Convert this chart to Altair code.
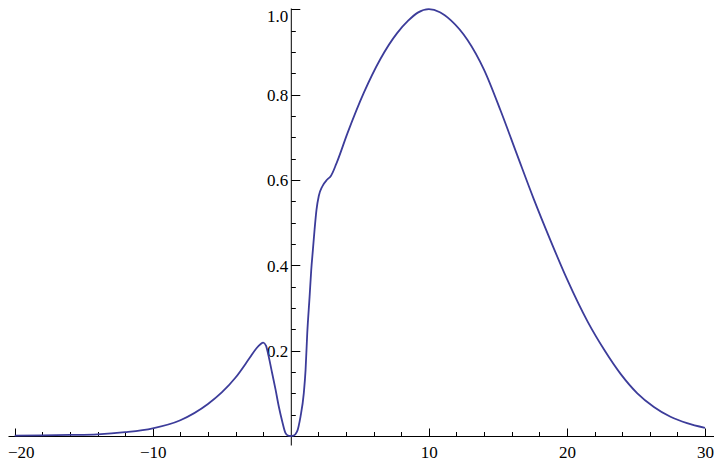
import altair as alt
import pandas as pd

# curve samples
x_vals = [-20, -18, -16, -14, -12, -10, -8, -6, -5, -4,
          -3, -2.5, -2.2, -2.0, -1.8, -1.6, -1.35, -1.1, -0.87, -0.62,
          -0.4, -0.2, 0, 0.2, 0.45, 0.7, 0.94, 1.07, 1.19, 1.36,
          1.48, 1.6, 1.72, 1.86, 2.03, 2.27, 2.64, 2.9, 3.3, 4.1,
          5.3, 6.5, 7.7, 8.5, 9.2, 10, 10.8, 11.6, 12.8, 14,
          15.2, 16.4, 17.6, 18.8, 20, 21.5, 22.7, 23.9, 25.1, 26.3,
          27.5, 28.7, 30]
y_vals = [0.001, 0.0015, 0.0025, 0.004, 0.009, 0.018, 0.037, 0.075, 0.102, 0.137,
          0.182, 0.205, 0.215, 0.219, 0.212, 0.186, 0.147, 0.108, 0.069, 0.034,
          0.008, 0.001, 0.0, 0.001, 0.01, 0.045, 0.1, 0.155, 0.24, 0.326,
          0.389, 0.436, 0.483, 0.53, 0.563, 0.584, 0.601, 0.609, 0.638, 0.709,
          0.805, 0.884, 0.944, 0.973, 0.992, 1.0, 0.993, 0.974, 0.928, 0.858,
          0.762, 0.658, 0.555, 0.459, 0.368, 0.268, 0.202, 0.145, 0.100, 0.068,
          0.045, 0.030, 0.019]

x_major = [-20, -10, 10, 20, 30]
x_minor = [-18, -16, -14, -12, -8, -6, -4, -2, 2, 4, 6, 8,
           12, 14, 16, 18, 22, 24, 26, 28]
y_major = [0.2, 0.4, 0.6, 0.8, 1.0]
y_minor = [0.05, 0.1, 0.15, 0.25, 0.3, 0.35, 0.45, 0.5, 0.55,
           0.65, 0.7, 0.75, 0.85, 0.9, 0.95]

df = pd.DataFrame({"x": x_vals, "y": y_vals})

W, H = 706, 437
x_dom = [-20.484, 30.653]
y_dom = [-0.02109, 1.00281]
X0 = 282.8      # plot-x of the vertical axis
Y0 = 428.0      # plot-y of the horizontal axis

FONT = "Liberation Serif"
xs = alt.Scale(domain=x_dom, nice=False, zero=False)
ys = alt.Scale(domain=y_dom, nice=False, zero=False)

# layer 1: the curve, with major ticks pointing inward
curve = alt.Chart(df).mark_line(
    color="#3c3c9a", strokeWidth=1.8, interpolate="monotone"
).encode(
    x=alt.X("x:Q", scale=xs, title=None,
            axis=alt.Axis(orient="top", values=x_major, tickSize=8, labels=False,
                          domain=False, grid=False, offset=-Y0,
                          tickColor="black", tickWidth=1)),
    y=alt.Y("y:Q", scale=ys, title=None,
            axis=alt.Axis(orient="right", values=y_major, tickSize=9, labels=False,
                          domain=False, grid=False, offset=X0 - W,
                          tickColor="black", tickWidth=1)),
)

# layer 2: minor ticks
minor = alt.Chart(df).mark_line(strokeOpacity=0).encode(
    x=alt.X("x:Q", scale=xs, title=None,
            axis=alt.Axis(orient="top", values=x_minor, tickSize=4.5, labels=False,
                          domain=False, grid=False, offset=-Y0,
                          tickColor="black", tickWidth=1)),
    y=alt.Y("y:Q", scale=ys, title=None,
            axis=alt.Axis(orient="right", values=y_minor, tickSize=4.5, labels=False,
                          domain=False, grid=False, offset=X0 - W,
                          tickColor="black", tickWidth=1)),
)

# layer 3: axis lines and labels
labels = alt.Chart(df).mark_line(strokeOpacity=0).encode(
    x=alt.X("x:Q", scale=xs, title=None,
            axis=alt.Axis(orient="bottom", values=x_major, ticks=False, tickSize=0,
                          labels=True, labelPadding=8, format="d",
                          labelFont=FONT, labelFontSize=17, labelColor="black",
                          labelOffset={"condition": {"test": "datum.value == -20", "value": 6},
                                       "value": 0},
                          domain=True, domainColor="black", domainWidth=1,
                          grid=False, offset=Y0 - H)),
    y=alt.Y("y:Q", scale=ys, title=None,
            axis=alt.Axis(orient="left", values=y_major, ticks=False, tickSize=0,
                          labels=True, labelPadding=3, format=".1f",
                          labelFont=FONT, labelFontSize=17, labelColor="black",
                          labelBaseline="middle",
                          labelOffset={"condition": {"test": "datum.value == 1", "value": 7},
                                       "value": 1},
                          domain=True, domainColor="black", domainWidth=1,
                          grid=False, offset=-X0)),
)

chart = alt.layer(curve, minor, labels).resolve_axis(
    x="independent", y="independent"
).properties(
    width=W, height=H,
    autosize=alt.AutoSizeParams(type="none"),
    padding={"left": 0, "top": 0, "right": 0, "bottom": 16},
    background="white",
).configure_view(stroke=None).configure_axis(labelFont=FONT)

chart.save("out.html", embed_options={"renderer": "svg", "actions": False})
